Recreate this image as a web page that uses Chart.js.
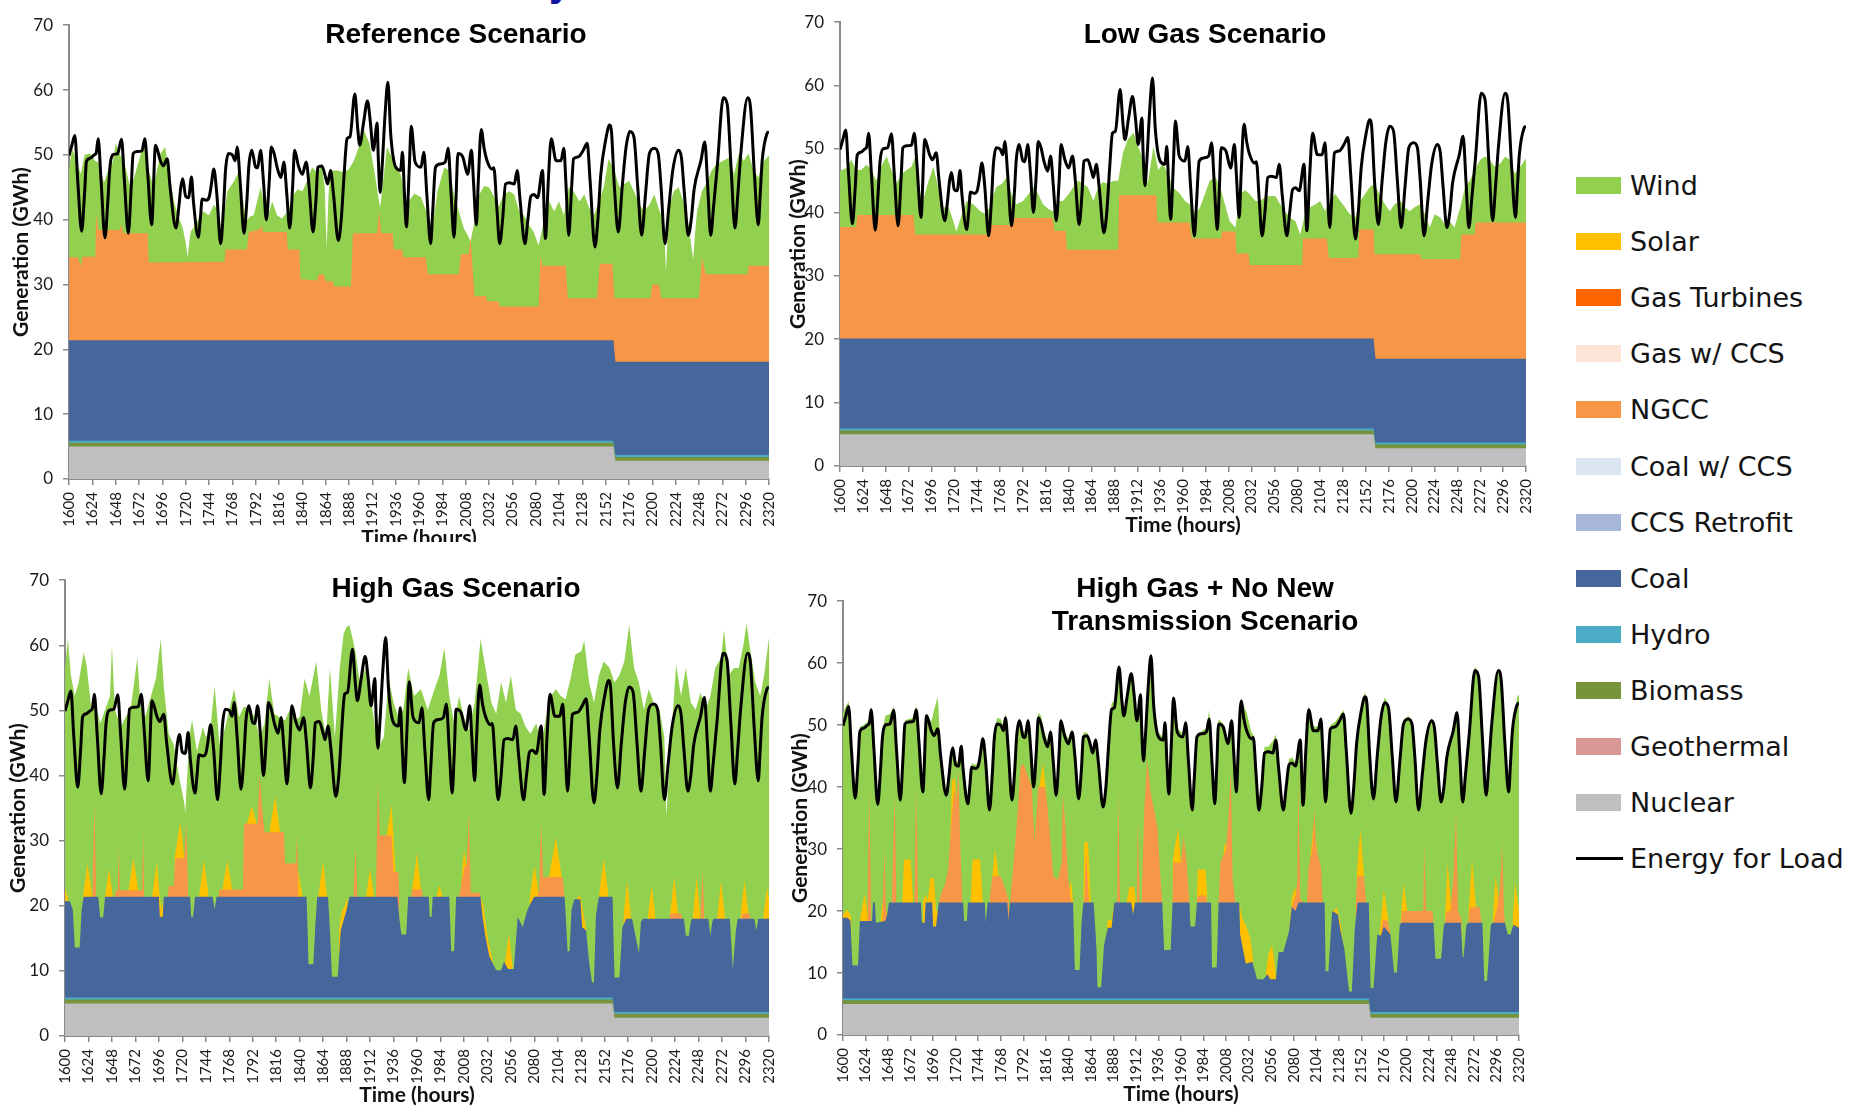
<!DOCTYPE html>
<html><head><meta charset="utf-8">
<script src="https://cdn.jsdelivr.net/npm/chart.js@4.4.1/dist/chart.umd.min.js"></script>
<style>
html,body{margin:0;padding:0;background:#fff;width:1853px;height:1108px;overflow:hidden;position:relative;}
.panel{position:absolute;}
.panel canvas{display:block}
.ttl{position:absolute;font:bold 28px 'Liberation Sans',Arial,sans-serif;color:#000;text-align:center;transform:translate(-50%,-50%);white-space:nowrap;line-height:33px;z-index:5}
.li{position:absolute;left:1576px;height:34px;display:flex;align-items:center;white-space:nowrap;font:27px 'DejaVu Sans',sans-serif;color:#141414;transform:translateY(-50%)}
.sw{width:45px;height:17px;margin-right:9px;flex:none}
.ln{width:47px;height:3px;margin-right:7px;background:#000;flex:none}
#mask{position:absolute;left:0;top:542px;width:790px;height:22px;background:#fff;z-index:3}
#frag{position:absolute;left:549px;top:-38px;font:bold 40px 'Liberation Sans',Arial,sans-serif;color:#1414a0;line-height:40px;z-index:5}
</style></head><body>
<div id="mask"></div>
<div id="frag">y</div>
<script>
// ---------------- DATA ----------------
const hourTicks = [1600,1624,1648,1672,1696,1720,1744,1768,1792,1816,1840,1864,1888,1912,1936,1960,1984,2008,2032,2056,2080,2104,2128,2152,2176,2200,2224,2248,2272,2296,2320];
const genTicks = [0,10,20,30,40,50,60,70];
const panelTitles = [["Reference Scenario"],["Low Gas Scenario"],["High Gas Scenario"],["High Gas + No New","Transmission Scenario"]];
const seriesNames = ["Wind","Solar","Gas Turbines","Gas w/ CCS","NGCC","Coal w/ CCS","CCS Retrofit","Coal","Hydro","Biomass","Geothermal","Nuclear","Energy for Load"];

// Energy for Load (GWh) - same in all four scenarios
const loadPoints = [[1600,49.9],[1603,51.5],[1606,53.0],[1609,46],[1613,38.2],[1616,44],[1618,49.0],[1622,49.5],[1626,50.0],[1628,50.3],[1630,52.5],[1633,46],[1637,37.2],[1640,43],[1642,48.0],[1645,50.0],[1650,50.2],[1654,52.4],[1657,46],[1661,37.9],[1664,45],[1666,50.2],[1670,50.5],[1675,50.6],[1678,52.5],[1681,47],[1685,39.2],[1689,51.5],[1694,49.1],[1697,48.3],[1701,49.4],[1704,45],[1710,38.7],[1713,42],[1715,45.0],[1717,46.3],[1720,43.6],[1723,43.4],[1726,46.6],[1728,42.8],[1733,37.3],[1735,40],[1737,43.2],[1741,43.0],[1744,43.4],[1746,45],[1749,47.8],[1752,44],[1756,36.3],[1759,42],[1761,47.6],[1764,50.2],[1768,50.0],[1771,49.1],[1773,51.2],[1776,46],[1780,37.9],[1783,43],[1785,48.3],[1788,50.7],[1792,48.1],[1794,48],[1797,50.7],[1800,46],[1803,40.0],[1806,46],[1808,51.2],[1811,50.2],[1814,48.1],[1818,46.5],[1821,48.9],[1824,44],[1827,38.7],[1830,45],[1832,50.7],[1836,48.3],[1840,47.0],[1844,48.9],[1847,45],[1851,38.1],[1854,43],[1856,48.1],[1860,48.3],[1864,46.5],[1866,45.5],[1869,47.6],[1872,44],[1877,36.8],[1880,40],[1883,47.0],[1886,52.5],[1889,52.8],[1894,59.4],[1897,54],[1899,51.5],[1903,55],[1907,58.3],[1910,55],[1913,50.7],[1917,54.9],[1918,50],[1920,44.2],[1922,48],[1925,56],[1928,61.2],[1931,53],[1936,48.1],[1941,47.6],[1943,50.4],[1945,44],[1947,38.9],[1950,48],[1952,54.4],[1956,48.9],[1962,48.1],[1965,50.4],[1968,44],[1972,36.3],[1974,41],[1977,48.1],[1982,48.6],[1987,48.9],[1990,51.0],[1993,44],[1996,37.3],[1998,43],[2000,50.2],[2005,49.7],[2010,47.0],[2014,50.7],[2016,46],[2019,39.2],[2021,46],[2024,53.9],[2027,51],[2030,49.1],[2035,47.8],[2037,48],[2040,42],[2043,36.3],[2046,40],[2049,45.5],[2053,45.7],[2058,45.5],[2061,47.6],[2064,43],[2069,36.3],[2072,40],[2075,43.6],[2078,43.9],[2082,43.4],[2087,47.6],[2090,37.1],[2093,46],[2096,52.5],[2101,49.1],[2106,49.1],[2109,51.0],[2111,46],[2114,37.6],[2117,45],[2119,49.4],[2124,49.7],[2129,50.7],[2133,51.8],[2136,46],[2141,35.8],[2144,40],[2147,47.0],[2152,52.3],[2156,54.6],[2158,53.5],[2161,45],[2165,38.1],[2169,45],[2173,51.2],[2177,53.6],[2181,52.8],[2185,45],[2189,37.6],[2193,44],[2197,50.2],[2202,51.0],[2206,50.2],[2209,45],[2213,36.3],[2217,42],[2221,47.6],[2227,50.7],[2230,49.5],[2233,44],[2237,37.6],[2240,40],[2243,44.7],[2250,49.1],[2254,52.0],[2257,45],[2260,37.6],[2263,42],[2267,48.6],[2273,58.8],[2277,57.8],[2281,48],[2285,38.7],[2288,44],[2291,50.2],[2298,58.8],[2301,57.3],[2305,47],[2309,39.2],[2311,44],[2313,49.1],[2318,53.3],[2320,53.6]];

// Shared bottom layers (top edge of each stacked layer, GWh)
const nuclearTop = [[1600,5.0],[2160,5.0],[2162,2.8],[2320,2.8]];
const biomassTop = [[1600,5.6],[2160,5.6],[2162,3.4],[2320,3.4]];
const hydroTop   = [[1600,5.9],[2160,5.9],[2162,3.7],[2320,3.7]];

// ---- Reference Scenario
const refCoalTop = [[1600,21.4],[2160,21.4],[2162,18.1],[2320,18.1]];
const refNgccTop = [[1600,34.2],[1609,34.2],[1612,32.9],[1614,34.3],[1627,34.3],[1628,41.0],[1630,38.4],[1652,38.4],[1654,39.2],[1656,37.9],[1681,37.9],[1682,33.4],[1760,33.5],[1761,35.4],[1783,35.4],[1785,38.1],[1796,38.5],[1798,39.1],[1800,38.1],[1824,38.1],[1825,35.4],[1837,35.4],[1838,30.8],[1855,30.6],[1857,31.6],[1862,31.6],[1864,30.5],[1871,30.5],[1873,29.7],[1890,29.7],[1892,37.9],[1917,37.9],[1919,41.5],[1921,37.9],[1933,37.9],[1934,35.4],[1943,35.4],[1944,34.2],[1967,34.2],[1969,31.6],[2001,31.6],[2003,34.7],[2011,34.7],[2013,37.1],[2015,33.0],[2017,28.2],[2029,28.2],[2030,27.4],[2042,27.4],[2043,26.6],[2083,26.6],[2085,34.5],[2087,32.9],[2111,32.9],[2113,27.9],[2143,27.9],[2146,33.2],[2159,33.2],[2161,27.9],[2198,27.9],[2200,30.0],[2207,30.0],[2209,27.9],[2248,27.9],[2251,34.2],[2255,31.6],[2298,31.6],[2299,32.9],[2320,32.9]];
const refWindTop = [[1600,47.6],[1603,51.0],[1608,49.0],[1612,47.0],[1616,50.0],[1622,50.2],[1627,49.0],[1630,48.9],[1636,45.7],[1640,47.5],[1645,48.9],[1648,51.8],[1652,50.2],[1658,48.1],[1663,45.0],[1667,46.5],[1674,50.2],[1677,52.3],[1682,47.6],[1687,45.0],[1694,50.2],[1699,51.2],[1703,47.0],[1708,42.8],[1712,40.7],[1717,38.7],[1720,36.5],[1722,34.2],[1725,38.1],[1732,39.7],[1738,41.3],[1744,40.7],[1749,42.3],[1754,41.3],[1757,38.1],[1763,44.4],[1770,46.0],[1775,47.6],[1782,39.7],[1786,40.5],[1790,40.7],[1797,45.0],[1804,40.2],[1809,42.8],[1814,40.7],[1819,40.2],[1825,41.3],[1830,43.6],[1835,44.7],[1840,44.4],[1845,46.0],[1850,48.1],[1855,47.3],[1860,48.3],[1863,45.0],[1865,35.5],[1867,44.0],[1869,47.6],[1876,47.6],[1883,47.3],[1888,47.8],[1893,49.1],[1898,51.2],[1903,53.9],[1909,51.8],[1914,47.6],[1920,41.8],[1927,51.2],[1934,49.1],[1941,47.0],[1948,42.5],[1955,44.0],[1962,43.5],[1969,40.7],[1974,38.7],[1979,44.4],[1986,48.1],[1991,47.6],[1996,43.9],[2001,41.3],[2006,38.7],[2010,37.6],[2013,36.6],[2017,39.7],[2022,43.9],[2027,45.2],[2032,45.0],[2037,43.6],[2042,42.0],[2047,43.9],[2053,44.4],[2058,43.9],[2063,41.3],[2068,40.7],[2073,39.2],[2078,38.1],[2083,36.0],[2089,40.2],[2094,42.8],[2099,41.3],[2104,42.8],[2109,40.7],[2114,45.0],[2119,44.4],[2125,42.8],[2130,43.9],[2135,41.8],[2140,40.7],[2145,42.8],[2150,45.0],[2155,49.4],[2161,47.6],[2166,45.0],[2171,45.5],[2176,46.0],[2181,44.4],[2186,42.6],[2191,41.3],[2197,42.3],[2202,43.9],[2207,41.5],[2212,39.7],[2214,31.8],[2217,41.8],[2222,44.4],[2227,45.0],[2232,42.8],[2237,39.7],[2240,36.0],[2242,33.9],[2244,38.0],[2246,41.3],[2251,44.4],[2256,45.7],[2261,47.6],[2266,48.6],[2273,49.1],[2279,49.6],[2284,47.0],[2289,50.2],[2294,49.1],[2299,50.2],[2304,47.6],[2309,46.5],[2315,49.1],[2320,49.9]];

// ---- Low Gas Scenario
const lowCoalTop = [[1600,20.1],[2160,20.1],[2162,16.9],[2320,16.9]];
const lowNgccTop = [[1600,37.7],[1617,37.7],[1618,39.6],[1677,39.6],[1679,36.5],[1756,36.5],[1757,38.0],[1782,38.0],[1783,39.1],[1823,39.1],[1825,37.1],[1837,37.1],[1838,34.1],[1892,34.1],[1893,42.7],[1932,42.7],[1933,38.4],[1967,38.4],[1969,35.9],[2000,35.9],[2001,37.0],[2015,37.0],[2016,33.5],[2029,33.5],[2030,31.7],[2085,31.7],[2086,35.9],[2111,35.9],[2113,32.8],[2144,32.8],[2145,37.3],[2160,37.3],[2161,33.4],[2209,33.4],[2210,32.6],[2251,32.6],[2252,36.5],[2266,36.5],[2267,38.4],[2320,38.4]];
const lowWindTop = [[1600,46.5],[1602,46.7],[1607,47.0],[1612,48.3],[1617,46.7],[1622,46.7],[1628,47.5],[1633,46.7],[1638,45.0],[1644,47.5],[1649,48.8],[1654,46.7],[1659,44.5],[1665,46.1],[1670,46.7],[1675,47.2],[1679,48.8],[1682,44.0],[1687,41.8],[1693,45.0],[1698,47.2],[1703,44.0],[1708,40.8],[1714,40.8],[1719,38.6],[1722,37.0],[1728,39.7],[1733,41.8],[1740,41.3],[1747,40.2],[1754,39.7],[1759,41.8],[1764,44.0],[1770,44.5],[1775,45.6],[1780,42.9],[1785,41.3],[1792,41.8],[1798,42.9],[1803,44.0],[1808,42.9],[1813,41.3],[1819,40.5],[1824,40.2],[1829,41.8],[1834,41.8],[1840,42.9],[1845,44.0],[1850,45.0],[1855,44.5],[1860,44.0],[1866,41.8],[1871,44.0],[1876,44.8],[1881,44.5],[1887,45.0],[1892,45.0],[1897,49.4],[1902,51.5],[1908,52.6],[1913,50.4],[1918,48.3],[1923,44.5],[1929,50.4],[1934,46.7],[1939,47.7],[1944,46.1],[1950,43.9],[1957,42.9],[1962,41.8],[1967,41.3],[1973,39.7],[1978,40.8],[1983,42.9],[1988,45.0],[1994,45.6],[1999,44.0],[2004,41.3],[2009,38.6],[2015,37.6],[2020,42.9],[2025,43.5],[2030,42.9],[2036,41.8],[2041,41.8],[2046,42.4],[2051,42.6],[2057,42.6],[2062,41.3],[2067,40.2],[2072,39.2],[2078,38.6],[2083,36.5],[2088,39.7],[2093,40.8],[2099,41.3],[2104,41.8],[2109,40.2],[2114,41.8],[2120,42.9],[2125,41.8],[2130,40.8],[2135,39.7],[2141,39.2],[2146,41.8],[2151,42.9],[2156,44.0],[2161,44.5],[2167,42.6],[2172,41.3],[2177,40.2],[2182,41.3],[2188,41.8],[2193,40.8],[2198,40.2],[2203,40.8],[2209,41.3],[2214,39.7],[2219,37.6],[2224,39.7],[2230,39.2],[2235,38.1],[2240,38.6],[2245,37.6],[2251,40.8],[2256,44.0],[2261,45.0],[2266,46.7],[2272,48.3],[2277,48.8],[2282,48.3],[2287,47.2],[2293,47.7],[2298,48.8],[2303,48.3],[2308,46.1],[2314,47.2],[2320,48.5]];

// ---- High Gas Scenario
const highCoalTop = [[1600,20.7],[1605,20.7],[1608,19.4],[1610,13.6],[1615,13.6],[1617,19.4],[1619,21.4],[1634,21.4],[1636,18.2],[1639,18.2],[1641,21.4],[1696,21.4],[1697,18.3],[1700,18.3],[1701,21.4],[1728,21.4],[1729,18.3],[1731,18.3],[1733,21.4],[1751,21.4],[1753,19.4],[1755,21.4],[1847,21.4],[1848,17.0],[1849,11.0],[1854,11.0],[1856,17.0],[1858,21.4],[1869,21.4],[1871,16.0],[1873,9.1],[1879,9.1],[1882,16.2],[1885,17.8],[1888,19.4],[1891,21.4],[1940,21.4],[1942,18.0],[1944,15.6],[1949,15.6],[1951,21.4],[1972,21.4],[1973,18.3],[1975,18.3],[1976,21.4],[1993,21.4],[1995,13.0],[1998,13.0],[2000,21.4],[2025,21.4],[2027,18.3],[2030,15.3],[2034,12.2],[2041,10.1],[2046,10.1],[2049,11.4],[2053,10.3],[2059,10.3],[2063,18.3],[2068,16.7],[2073,19.4],[2078,20.9],[2080,21.4],[2111,21.4],[2113,16.0],[2114,13.0],[2116,13.0],[2118,19.4],[2121,21.0],[2127,21.0],[2129,16.7],[2133,16.2],[2136,11.4],[2139,8.2],[2141,8.2],[2143,18.5],[2146,21.4],[2160,21.4],[2162,9.0],[2167,9.0],[2170,16.7],[2174,18.0],[2180,18.0],[2182,16.5],[2187,12.7],[2189,17.5],[2191,18.0],[2233,18.0],[2235,15.4],[2238,15.4],[2240,17.5],[2241,18.0],[2258,18.0],[2260,15.4],[2262,17.5],[2263,18.0],[2280,18.0],[2283,10.3],[2286,16.0],[2288,18.0],[2305,18.0],[2307,16.2],[2309,18.0],[2320,18.0]];
const highNgccTop = [
 [[1628,21.4],[1630,35.8],[1632,21.4]],
 [[1651,21.4],[1652,22.4],[1654,22.4],[1655,29.4],[1656,22.4],[1679,22.4],[1680,31.8],[1681,21.4]],
 [[1705,21.4],[1706,23.0],[1711,23.0],[1713,27.3],[1722,27.3],[1724,33.1],[1726,21.4]],
 [[1757,21.4],[1758,22.5],[1782,22.5],[1783,32.6],[1797,32.6],[1799,40.3],[1801,36.0],[1804,31.3],[1824,31.3],[1825,26.5],[1836,26.5],[1837,31.0],[1839,21.4]],
 [[1895,21.4],[1897,29.2],[1899,21.4]],
 [[1918,21.4],[1920,39.0],[1922,30.8],[1934,30.8],[1936,25.2],[1941,25.2],[1942,21.4]],
 [[1954,21.4],[1955,22.5],[1965,22.5],[1966,21.4]],
 [[2003,21.4],[2005,23.0],[2009,26.2],[2011,26.2],[2013,34.5],[2015,22.0],[2024,22.0],[2025,21.4]],
 [[2083,21.4],[2085,22.5],[2087,33.1],[2089,24.4],[2109,24.4],[2111,21.4]],
 [[2218,18.0],[2219,18.8],[2230,18.8],[2231,18.0]],
 [[2250,18.0],[2252,25.5],[2254,18.0]],
 [[2292,18.0],[2293,18.8],[2300,18.8],[2301,18.0]]];
const highSolarTop = [
 [[1600,22.8],[1602,21.6],[1603,21.4]],
 [[1618,21.0],[1623,26.5],[1628,21.4]],
 [[1641,21.4],[1645,25.7],[1649,21.4]],
 [[1665,22.4],[1670,27.3],[1675,22.4]],
 [[1689,21.4],[1694,26.8],[1697,21.0],[1699,19.5],[1701,21.4]],
 [[1712,27.3],[1718,32.9],[1722,27.3]],
 [[1737,21.4],[1742,27.0],[1747,21.4]],
 [[1761,22.5],[1766,27.0],[1771,22.5]],
 [[1786,32.6],[1791,35.3],[1796,32.6]],
 [[1809,31.3],[1815,36.9],[1820,31.3]],
 [[1837,26.5],[1840,24.0],[1843,21.4]],
 [[1859,21.4],[1864,26.8],[1868,21.4]],
 [[1880,16.0],[1883,19.0],[1886,20.0],[1889,21.4]],
 [[1908,21.4],[1912,25.7],[1916,21.4]],
 [[1929,30.8],[1934,35.5],[1938,25.2]],
 [[1955,22.5],[1960,28.1],[1964,22.5]],
 [[1980,21.4],[1983,23.2],[1986,21.4]],
 [[2005,23.0],[2008,28.4],[2011,26.2]],
 [[2025,21.4],[2028,20.0],[2030,17.5],[2033,14.5],[2036,12.5],[2039,10.5]],
 [[2050,11.4],[2054,15.6],[2058,10.5]],
 [[2075,21.0],[2080,26.2],[2084,22.5]],
 [[2095,24.4],[2102,30.5],[2108,24.4]],
 [[2123,21.0],[2127,21.6],[2130,19.0],[2133,16.5]],
 [[2146,21.4],[2151,27.3],[2156,21.4]],
 [[2171,18.0],[2175,23.9],[2179,18.0]],
 [[2196,18.0],[2200,23.1],[2204,18.0]],
 [[2219,18.8],[2223,24.4],[2227,18.8]],
 [[2242,18.0],[2246,24.4],[2250,18.0]],
 [[2267,18.0],[2271,23.9],[2275,18.0]],
 [[2291,18.8],[2295,23.9],[2299,18.8]],
 [[2314,18.0],[2318,22.8],[2320,21.0]]];
const highWindTop = [[1600,56.5],[1603,61.0],[1606,55.4],[1610,52.2],[1614,54.3],[1619,58.9],[1622,57.0],[1627,50.1],[1631,51.2],[1636,48.0],[1641,50.1],[1646,52.2],[1648,59.9],[1651,50.1],[1657,47.5],[1662,49.0],[1667,50.1],[1674,58.1],[1677,51.2],[1682,49.0],[1687,51.7],[1693,54.9],[1698,61.0],[1701,53.8],[1706,46.4],[1711,44.8],[1717,39.5],[1722,35.8],[1723,34.2],[1727,45.9],[1730,48.5],[1735,43.7],[1741,47.5],[1744,45.9],[1749,47.5],[1753,53.8],[1758,44.8],[1763,46.9],[1768,50.1],[1773,53.3],[1778,49.0],[1783,50.6],[1789,50.1],[1794,49.0],[1799,45.9],[1804,48.0],[1809,54.9],[1814,49.5],[1819,49.0],[1825,48.5],[1830,50.1],[1835,48.5],[1840,49.0],[1845,54.9],[1850,52.2],[1857,57.5],[1862,50.1],[1867,45.9],[1871,56.5],[1876,45.9],[1881,56.5],[1885,61.8],[1888,62.8],[1891,63.1],[1897,59.1],[1902,53.8],[1907,56.5],[1912,52.8],[1917,47.5],[1922,44.8],[1926,45.9],[1931,54.9],[1936,51.2],[1941,49.0],[1946,50.1],[1951,56.5],[1957,52.2],[1964,53.3],[1971,50.1],[1978,53.3],[1983,55.4],[1988,59.6],[1993,52.2],[1998,48.0],[2003,52.2],[2008,49.0],[2013,46.9],[2019,51.2],[2025,61.0],[2030,56.5],[2036,51.2],[2041,49.5],[2046,54.3],[2051,51.2],[2056,55.4],[2061,50.1],[2066,49.5],[2071,47.5],[2076,46.4],[2082,48.0],[2087,44.8],[2092,49.0],[2097,52.2],[2102,53.3],[2107,52.2],[2112,51.7],[2117,54.9],[2122,58.6],[2128,59.1],[2131,60.7],[2136,54.3],[2141,51.2],[2146,55.4],[2151,57.5],[2157,56.5],[2162,54.3],[2167,55.4],[2172,57.5],[2177,63.1],[2182,56.5],[2187,54.3],[2192,50.1],[2197,53.3],[2202,51.2],[2208,50.1],[2213,45.9],[2215,33.7],[2220,45.9],[2225,57.0],[2230,52.2],[2235,56.5],[2240,51.2],[2245,50.1],[2250,52.8],[2255,50.1],[2260,52.2],[2265,56.5],[2271,58.1],[2274,62.3],[2279,55.4],[2284,56.5],[2289,56.5],[2294,60.2],[2297,63.4],[2301,59.1],[2306,54.3],[2311,52.2],[2315,55.4],[2320,61.2]];

// ---- High Gas + No New Transmission Scenario
const hgntCoalTop = [[1600,18.9],[1605,18.9],[1608,18.4],[1610,11.2],[1616,11.2],[1618,18.4],[1631,18.4],[1632,21.4],[1634,21.4],[1635,18.1],[1645,18.4],[1647,19.5],[1649,21.4],[1683,21.4],[1684,18.1],[1687,18.1],[1688,21.4],[1695,21.4],[1696,17.5],[1699,17.5],[1701,20.0],[1702,21.4],[1728,21.4],[1729,18.4],[1732,18.4],[1733,21.4],[1751,21.4],[1752,18.1],[1754,21.4],[1775,21.4],[1776,18.4],[1778,21.4],[1845,21.4],[1847,10.5],[1852,10.5],[1854,18.0],[1856,21.4],[1867,21.4],[1870,14.0],[1871,7.7],[1875,7.7],[1878,14.5],[1882,17.3],[1886,17.3],[1889,21.4],[1907,21.4],[1909,19.5],[1911,21.4],[1940,21.4],[1942,13.7],[1949,13.7],[1951,21.4],[1969,21.4],[1970,17.5],[1975,17.5],[1977,21.4],[1992,21.4],[1993,10.9],[1998,10.9],[2000,21.4],[2022,21.4],[2023,16.2],[2029,11.5],[2036,11.8],[2041,9.0],[2048,9.0],[2052,9.8],[2055,9.0],[2061,9.0],[2064,13.4],[2069,13.4],[2075,16.7],[2078,20.7],[2082,20.0],[2085,21.4],[2113,21.4],[2114,10.3],[2117,10.3],[2121,20.0],[2127,19.5],[2130,16.7],[2134,13.9],[2139,7.0],[2142,7.0],[2145,17.0],[2148,21.4],[2160,21.4],[2162,7.6],[2165,7.6],[2169,16.2],[2173,16.0],[2176,17.5],[2183,16.2],[2187,10.1],[2190,10.1],[2193,17.8],[2195,18.1],[2229,18.1],[2231,12.3],[2237,12.3],[2240,17.8],[2242,18.1],[2258,18.1],[2260,12.6],[2261,12.6],[2264,17.8],[2266,18.1],[2281,18.1],[2283,8.7],[2286,8.7],[2290,17.8],[2292,18.1],[2305,18.1],[2308,16.2],[2311,16.2],[2314,17.8],[2320,17.3]];
const hgntNgccTop = [
 [[1626,18.4],[1628,40.0],[1630,18.4]],
 [[1642,18.4],[1644,30.0],[1646,19.0]],
 [[1652,21.4],[1655,38.8],[1657,21.4]],
 [[1676,21.4],[1678,40.0],[1680,21.4]],
 [[1702,21.4],[1705,23.0],[1709,24.5],[1712,26.7],[1716,35.5],[1719,40.0],[1721,37.7],[1723,43.0],[1725,30.0],[1727,21.4]],
 [[1756,21.4],[1759,25.6],[1768,25.6],[1774,23.0],[1777,21.4]],
 [[1778,21.4],[1780,25.0],[1783,30.0],[1787,38.0],[1789,43.3],[1792,43.8],[1796,42.2],[1801,40.0],[1804,31.1],[1808,40.0],[1815,40.0],[1818,36.6],[1824,25.6],[1829,25.0],[1833,28.0],[1834,38.8],[1836,35.5],[1840,25.0],[1843,21.4]],
 [[1857,21.4],[1859,29.4],[1862,21.4]],
 [[1892,21.4],[1893,40.0],[1895,21.4]],
 [[1913,21.4],[1914,35.0],[1916,21.4]],
 [[1918,21.4],[1921,36.6],[1924,44.4],[1928,38.8],[1931,36.6],[1935,33.3],[1938,25.6],[1940,21.4]],
 [[1951,21.4],[1952,27.8],[1960,27.8],[1963,32.2],[1966,27.8],[1969,21.4]],
 [[1977,21.4],[1978,22.5],[1986,22.5],[1988,21.4]],
 [[2000,21.4],[2002,27.8],[2008,30.0],[2011,36.0],[2013,42.7],[2015,25.0],[2018,21.4]],
 [[2078,20.7],[2082,22.5],[2084,25.0],[2085,41.3],[2087,22.0],[2090,21.4]],
 [[2094,21.4],[2096,27.2],[2100,30.0],[2102,36.6],[2104,30.0],[2109,27.2],[2111,21.4]],
 [[2146,21.4],[2148,25.6],[2155,25.6],[2157,21.4]],
 [[2173,16.0],[2175,18.5],[2180,18.5],[2183,16.2]],
 [[2194,18.1],[2196,20.0],[2218,20.0],[2219,31.0],[2221,20.0],[2228,20.0],[2229,18.1]],
 [[2241,18.1],[2243,20.0],[2247,20.0],[2250,25.0],[2253,36.1],[2255,20.0],[2258,19.0],[2259,18.1]],
 [[2266,18.1],[2268,20.6],[2278,20.6],[2280,18.1]],
 [[2293,18.1],[2296,20.0],[2300,24.0],[2302,31.1],[2304,20.0],[2305,18.1]]];
const hgntSolarTop = [
 [[1600,19.5],[1604,20.2],[1608,19.4],[1609,18.4]],
 [[1618,18.4],[1623,22.8],[1627,18.4]],
 [[1640,18.4],[1643,22.5],[1647,19.5]],
 [[1663,21.4],[1665,28.3],[1672,28.3],[1675,21.4]],
 [[1685,21.4],[1688,22.8],[1690,21.5],[1693,25.3],[1697,25.3],[1699,20.0],[1701,20.0],[1702,21.4]],
 [[1714,30.0],[1716,41.0],[1719,41.5],[1721,38.0]],
 [[1736,21.4],[1738,28.3],[1746,28.3],[1749,21.4]],
 [[1759,25.6],[1762,30.0],[1766,25.6]],
 [[1809,40.0],[1813,43.8],[1817,38.0]],
 [[1839,22.0],[1843,25.0],[1845,21.4]],
 [[1856,21.4],[1857,31.1],[1861,31.1],[1864,21.4]],
 [[1880,15.0],[1882,18.5],[1886,18.5],[1889,21.4]],
 [[1902,21.4],[1905,23.9],[1910,23.9],[1912,21.4]],
 [[1951,27.8],[1953,30.0],[1957,33.3],[1960,27.8]],
 [[1977,22.5],[1978,26.7],[1986,26.7],[1988,22.5]],
 [[2004,27.8],[2007,31.1],[2010,30.0]],
 [[2022,21.4],[2025,19.0],[2030,17.3],[2034,15.5],[2037,12.0]],
 [[2050,9.5],[2053,13.0],[2057,14.5],[2061,10.0]],
 [[2075,16.7],[2078,22.0],[2081,23.9],[2084,22.0]],
 [[2097,27.2],[2101,33.9],[2105,30.0]],
 [[2122,20.0],[2126,20.5],[2130,18.0],[2133,14.0]],
 [[2147,25.6],[2151,33.3],[2155,25.6]],
 [[2172,17.0],[2176,23.4],[2181,18.5]],
 [[2194,18.1],[2197,24.5],[2201,20.0]],
 [[2241,18.5],[2244,27.8],[2248,20.0]],
 [[2266,19.0],[2270,28.3],[2275,19.0]],
 [[2292,18.1],[2295,25.6],[2299,21.0]],
 [[2313,18.0],[2316,24.5],[2320,20.0]]];
const hgntWindTop = [[1600,52.0],[1603,53.0],[1606,53.8],[1609,47.5],[1613,39.0],[1616,45.5],[1618,49.8],[1622,50.0],[1626,50.5],[1628,51.0],[1630,53.0],[1633,46.5],[1637,37.8],[1640,44.5],[1642,48.8],[1645,51.5],[1650,51.8],[1654,53.0],[1657,46.5],[1661,38.5],[1664,46.0],[1666,50.8],[1670,51.0],[1675,51.2],[1678,53.2],[1681,48.0],[1685,40.0],[1689,52.0],[1694,50.5],[1697,52.5],[1701,54.6],[1704,46.0],[1710,39.5],[1713,43.0],[1715,45.8],[1717,46.8],[1720,44.2],[1723,44.0],[1726,47.0],[1728,43.5],[1733,38.0],[1735,41.0],[1737,43.8],[1741,43.6],[1744,44.0],[1746,45.8],[1749,48.3],[1752,44.8],[1756,37.0],[1759,43.0],[1761,48.5],[1764,51.2],[1768,51.0],[1771,49.8],[1773,51.8],[1776,46.8],[1780,38.5],[1783,44.0],[1785,49.0],[1788,51.2],[1792,49.0],[1794,49.0],[1797,51.2],[1800,46.5],[1803,40.5],[1806,47.0],[1808,52.0],[1811,51.5],[1814,49.0],[1818,47.5],[1821,49.5],[1824,45.0],[1827,39.3],[1830,45.8],[1832,51.2],[1836,49.0],[1840,47.8],[1844,49.4],[1847,45.8],[1851,38.8],[1854,44.0],[1856,48.8],[1860,48.8],[1864,47.0],[1866,46.0],[1869,48.0],[1872,44.5],[1877,37.3],[1880,41.0],[1883,48.0],[1886,53.5],[1889,54.0],[1894,59.8],[1897,54.5],[1899,52.0],[1903,55.5],[1907,58.8],[1910,55.5],[1913,51.2],[1917,55.3],[1918,50.5],[1920,44.8],[1922,48.5],[1925,56.3],[1928,61.4],[1931,53.5],[1936,48.8],[1941,48.0],[1943,50.8],[1945,44.5],[1947,39.5],[1950,48.5],[1952,54.8],[1956,49.5],[1962,48.6],[1965,50.8],[1968,44.5],[1972,37.0],[1974,41.5],[1977,48.6],[1982,49.0],[1987,49.5],[1990,52.5],[1993,44.5],[1996,38.0],[1998,43.5],[2000,51.0],[2005,50.2],[2010,47.5],[2014,51.2],[2016,46.5],[2019,39.8],[2021,46.5],[2024,54.3],[2027,53.0],[2030,52.0],[2035,48.8],[2037,48.5],[2040,43.0],[2043,37.5],[2046,41.0],[2049,46.5],[2053,46.5],[2058,47.5],[2061,48.5],[2064,43.8],[2069,37.0],[2072,41.0],[2075,44.5],[2078,44.8],[2082,44.0],[2087,48.0],[2090,37.8],[2093,46.5],[2096,53.0],[2101,49.8],[2106,49.8],[2109,51.5],[2111,46.5],[2114,38.2],[2117,45.5],[2119,50.0],[2124,50.5],[2129,51.5],[2133,52.5],[2136,46.5],[2141,36.5],[2144,41.0],[2147,47.8],[2152,52.8],[2156,55.4],[2158,54.0],[2161,45.5],[2165,38.6],[2169,45.5],[2173,52.0],[2177,54.5],[2181,53.3],[2185,45.5],[2189,38.2],[2193,44.5],[2197,50.8],[2202,51.5],[2206,50.7],[2209,45.5],[2213,36.6],[2217,42.5],[2221,48.2],[2227,51.2],[2230,50.0],[2233,44.5],[2237,38.0],[2240,40.5],[2243,45.2],[2250,49.6],[2254,52.6],[2257,45.5],[2260,38.0],[2263,42.5],[2267,49.0],[2273,59.5],[2277,58.2],[2281,48.5],[2285,39.2],[2288,44.5],[2291,50.6],[2298,59.2],[2301,57.8],[2305,47.5],[2309,39.6],[2311,44.5],[2313,49.6],[2318,54.5],[2320,55.0]];

// ---------------- STYLE / LAYOUT ----------------
const seriesColors = {"Wind":"#92D050","Solar":"#FFC000","Gas Turbines":"#FF6600","Gas w/ CCS":"#FCE4D6","NGCC":"#F79646","Coal w/ CCS":"#DCE6F2","CCS Retrofit":"#A6B7D9","Coal":"#45679B","Hydro":"#4BACC6","Biomass":"#77933C","Geothermal":"#D99795","Nuclear":"#BFBFBF","Energy for Load":"#000000"};
const boxes = [
  {L:69, R:769, T:15, B:479, yt:8.4,  tx:456, ty:33},
  {L:840,R:1526,T:12, B:466, yt:14.4, tx:1205,ty:33},
  {L:65, R:769, T:570,B:1036,yt:9.4,  tx:456, ty:587},
  {L:843,R:1519,T:591,B:1035,yt:13.4, tx:1205,ty:587}
];
const YW=69, XH=72, PADT=10, PADR=30;

const toPts = p => p.map(([x,y])=>({x,y}));
const toSegPts = segs => { const out=[]; segs.forEach((s,i)=>{ if(i) out.push({x:s[0][0],y:null}); s.forEach(([x,y])=>out.push({x,y})); }); return out; };

function area(label, pts, order){
  return {label, data:pts, order, fill:'origin', backgroundColor:seriesColors[label], borderWidth:0, pointRadius:0, tension:0, spanGaps:false};
}
const scenarios = [
  {wind:toPts(refWindTop), solar:[], ngcc:toPts(refNgccTop), coal:toPts(refCoalTop)},
  {wind:toPts(lowWindTop), solar:[], ngcc:toPts(lowNgccTop), coal:toPts(lowCoalTop)},
  {wind:toPts(highWindTop), solar:toSegPts(highSolarTop), ngcc:toSegPts(highNgccTop), coal:toPts(highCoalTop)},
  {wind:toPts(hgntWindTop), solar:toSegPts(hgntSolarTop), ngcc:toSegPts(hgntNgccTop), coal:toPts(hgntCoalTop)}
];

Chart.defaults.font.family = "Lato, 'Liberation Sans', sans-serif";
const axisGray = '#8a8a8a';

scenarios.forEach((sc, i) => {
  const b = boxes[i];
  const left=b.L-YW, top=b.T-PADT, w=b.R-left+PADR, h=b.B-top+XH;
  const div=document.createElement('div'); div.className='panel';
  div.style.cssText=`left:${left}px;top:${top}px;width:${w}px;height:${h}px;z-index:${i>=2?4:1}`;
  const cv=document.createElement('canvas'); cv.width=w; cv.height=h; cv.style.width=w+'px'; cv.style.height=h+'px';
  div.appendChild(cv); document.body.appendChild(div);

  const t = document.createElement('div'); t.className='ttl';
  t.style.left=b.tx+'px'; t.style.top=(b.ty + (panelTitles[i].length-1)*16.5)+'px';
  t.innerHTML = panelTitles[i].join('<br>');
  document.body.appendChild(t);

  new Chart(cv, {
    type:'line',
    data:{datasets:[
      {label:'Energy for Load', data:toPts(loadPoints), order:0, borderColor:'#000', borderWidth:3, pointRadius:0, fill:false, cubicInterpolationMode:'monotone'},
      area('Nuclear', toPts(nuclearTop), 1),
      area('Biomass', toPts(biomassTop), 2),
      area('Hydro', toPts(hydroTop), 3),
      area('Coal', sc.coal, 4),
      area('NGCC', sc.ngcc, 5),
      area('Solar', sc.solar, 6),
      area('Wind', sc.wind, 7)
    ]},
    options:{
      responsive:false, animation:false, devicePixelRatio:1,
      layout:{padding:{top:PADT,right:PADR,left:0,bottom:0}},
      plugins:{legend:{display:false}, tooltip:{enabled:false}},
      events:[],
      scales:{
        x:{type:'linear', min:1600, max:2320,
           afterFit:s=>{s.height=XH;},
           afterBuildTicks:s=>{s.ticks=hourTicks.map(v=>({value:v}));},
           ticks:{autoSkip:false, minRotation:90, maxRotation:90, padding:7, color:'#1a1a1a', font:{size:15}, callback:v=>String(v)},
           grid:{display:true, drawOnChartArea:false, drawTicks:true, tickLength:6, color:axisGray, lineWidth:1.5},
           border:{display:true, color:axisGray, width:2},
           title:{display:true, text:'Time (hours)', color:'#111', font:{size:21, weight:'bold'}, padding:{top:0,bottom:0}}},
        y:{min:0, max:70,
           afterFit:s=>{s.width=YW;},
           afterBuildTicks:s=>{s.ticks=genTicks.map(v=>({value:v}));},
           ticks:{padding:10, color:'#1a1a1a', font:{size:17}},
           grid:{display:true, drawOnChartArea:false, drawTicks:true, tickLength:6, color:axisGray, lineWidth:1.5},
           border:{display:true, color:axisGray, width:2},
           title:{display:true, text:'Generation (GWh)', color:'#111', font:{size:21, weight:'bold'}, padding:{top:b.yt,bottom:0}}}
      }
    }
  });
});

// Legend
seriesNames.forEach((name, k) => {
  const row=document.createElement('div'); row.className='li';
  row.style.top=(185.5 + k*56.1)+'px';
  const sw=document.createElement('div');
  if (name==='Energy for Load') { sw.className='ln'; }
  else { sw.className='sw'; sw.style.background=seriesColors[name]; }
  row.appendChild(sw);
  const tx=document.createElement('span'); tx.textContent=name; row.appendChild(tx);
  document.body.appendChild(row);
});
</script>
</body></html>
